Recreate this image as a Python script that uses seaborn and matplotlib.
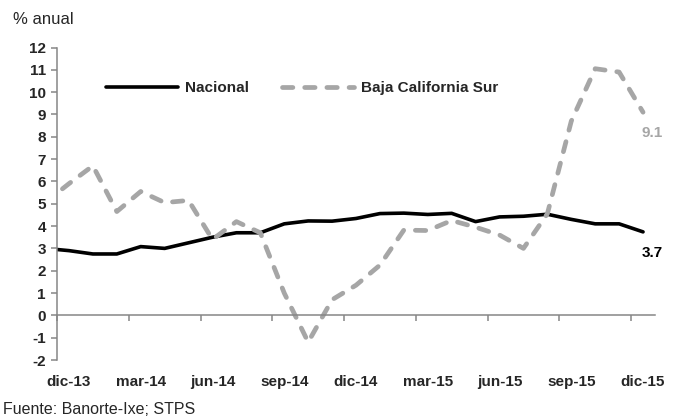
import numpy as np
import pandas as pd
import matplotlib
matplotlib.use('Agg')
import matplotlib.pyplot as plt
import seaborn as sns

# Monthly labels (nov-13 is only there so the line runs into the axis, as in the source chart)
meses = ['nov-13', 'dic-13', 'ene-14', 'feb-14', 'mar-14', 'abr-14', 'may-14',
         'jun-14', 'jul-14', 'ago-14', 'sep-14', 'oct-14', 'nov-14', 'dic-14',
         'ene-15', 'feb-15', 'mar-15', 'abr-15', 'may-15', 'jun-15', 'jul-15',
         'ago-15', 'sep-15', 'oct-15', 'nov-15', 'dic-15']

# % anual
nacional = [3.0, 2.9, 2.75, 2.75, 3.08, 3.0, 3.25, 3.5, 3.7, 3.7, 4.1, 4.23, 4.22,
            4.34, 4.56, 4.58, 4.52, 4.57, 4.2, 4.41, 4.44, 4.53, 4.3, 4.1, 4.1, 3.74]
baja_california_sur = [5.05, 5.9, 6.7, 4.65, 5.55, 5.05, 5.15, 3.4, 4.2, 3.7, 1.0, -1.2, 0.7,
                       1.35, 2.25, 3.82, 3.8, 4.25, 3.95, 3.6, 3.0, 4.55, 8.7, 11.05, 10.9, 9.1]

series = ['Nacional', 'Baja California Sur']
colores = {'Nacional': '#000000', 'Baja California Sur': '#A6A6A6'}
gris_eje = '#868686'

sns.set_theme(style='white')
plt.rcParams['font.family'] = ['Liberation Sans', 'DejaVu Sans']
plt.rcParams['axes.unicode_minus'] = False  # plain hyphen on -1, -2

# --- long-form table for seaborn ---
pos = np.arange(len(meses))
df = pd.DataFrame({
    'pos': np.concatenate([pos, pos]),
    'valor': nacional + baja_california_sur,
    'serie': [series[0]] * len(meses) + [series[1]] * len(meses),
})

fig = plt.figure(figsize=(6.79, 4.18), dpi=100)
ax = fig.add_axes([57 / 679, 1 - 360 / 418, 598 / 679, 312.5 / 418])

sns.lineplot(data=df, x='pos', y='valor', hue='serie', style='serie',
             hue_order=series, style_order=series, palette=colores,
             dashes={'Nacional': '', 'Baja California Sur': (2.2, 2.5)},
             legend=False, ax=ax)

linea_nac, linea_bcs = ax.lines[0], ax.lines[1]
linea_nac.set_linewidth(2.6)
linea_bcs.set_linewidth(3.4)
linea_bcs.set_dash_capstyle('round')

# --- axes ---
ax.set_xlim(0.5, len(meses) - 0.5)
ax.set_ylim(-2, 12)
ax.set_yticks(range(-2, 13))
ax.set_xticks(np.arange(0.5, len(meses), 3))
ax.set_xlabel('')
ax.set_ylabel('')

for lado in ['top', 'right']:
    ax.spines[lado].set_visible(False)
ax.spines['left'].set_color(gris_eje)
ax.spines['left'].set_linewidth(1.1)
ax.spines['bottom'].set_position(('data', 0))
ax.spines['bottom'].set_color(gris_eje)
ax.spines['bottom'].set_linewidth(1.1)

ax.tick_params(axis='x', direction='out', length=4, width=1.1, color=gris_eje,
               bottom=True, labelbottom=False)
ax.tick_params(axis='y', direction='out', length=4, width=1.1, color=gris_eje,
               left=True, pad=4, labelsize=11)
for lbl in ax.get_yticklabels():
    lbl.set_fontweight('bold')

# month labels sit at the bottom of the plot, not on the zero line
eje_meses = ax.secondary_xaxis('bottom')
eje_meses.set_xticks(pos[1::3], labels=meses[1::3])
eje_meses.tick_params(length=0, pad=11, labelsize=11)
eje_meses.spines['bottom'].set_visible(False)
for lbl in eje_meses.get_xticklabels():
    lbl.set_fontweight('bold')

# --- legend ---
ax.legend([linea_nac, linea_bcs], series, loc='center', bbox_to_anchor=(0.41, 0.87),
          ncol=2, frameon=False, handlelength=4.7, handletextpad=0.45,
          columnspacing=2.2, prop={'weight': 'bold', 'size': 11})

# --- last-value labels ---
ax.annotate(f'{nacional[-1]:.1f}', xy=(pos[-1], nacional[-1]), xytext=(6.5, -15),
            textcoords='offset points', ha='center', va='center',
            fontsize=11, fontweight='bold', color=colores['Nacional'])
ax.annotate(f'{baja_california_sur[-1]:.1f}', xy=(pos[-1], baja_california_sur[-1]),
            xytext=(6.5, -15), textcoords='offset points', ha='center', va='center',
            fontsize=11, fontweight='bold', color=colores['Baja California Sur'])

fig.text(13 / 679, 1 - 19 / 418, '% anual', fontsize=12, ha='left', va='center')
fig.text(3 / 679, 1 - 409 / 418, 'Fuente: Banorte-Ixe; STPS', fontsize=11.5,
         ha='left', va='center')

fig.savefig('out.png', dpi=100)
